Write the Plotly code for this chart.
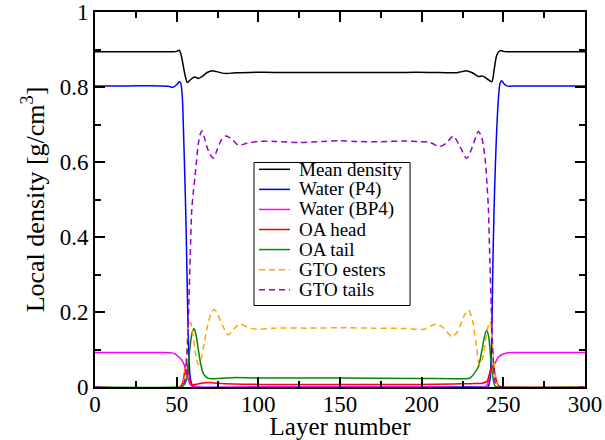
import plotly.graph_objects as go

# ---- data ----
mean_x = [0, 10, 20, 30, 40, 45, 48, 50, 51.6, 53, 54.5, 55.5, 56.5, 58.6, 60, 61.2, 63.3, 65.9, 68.4, 71.4, 74.5, 78, 80.6, 85.7, 95, 110, 130, 150, 170, 190, 205, 215, 221.4, 224.5, 227.6, 231, 234.7, 237.3, 240, 242.9, 244.5, 246, 248, 250, 252, 260, 280, 300]
mean_y = [0.894, 0.894, 0.894, 0.894, 0.894, 0.894, 0.894, 0.895, 0.898, 0.88, 0.845, 0.825, 0.812, 0.82, 0.825, 0.827, 0.823, 0.829, 0.838, 0.843, 0.841, 0.837, 0.836, 0.838, 0.839, 0.839, 0.839, 0.839, 0.839, 0.839, 0.839, 0.838, 0.838, 0.841, 0.843, 0.838, 0.828, 0.829, 0.822, 0.814, 0.85, 0.885, 0.897, 0.895, 0.894, 0.894, 0.894, 0.894]

p4_x = [0, 20, 40, 45, 47.5, 50, 51.6, 52.5, 53.5, 54.2, 55, 55.8, 56.5, 57.3, 58.2, 59.5, 62, 100, 150, 200, 235, 240.5, 241.8, 242.7, 243.5, 244.3, 245.2, 246, 247, 248, 249, 250.5, 252, 260, 300]
p4_y = [0.803, 0.803, 0.803, 0.802, 0.799, 0.806, 0.814, 0.81, 0.77, 0.68, 0.56, 0.42, 0.26, 0.11, 0.03, 0.005, 0, 0, 0, 0, 0, 0, 0.02, 0.1, 0.3, 0.47, 0.6, 0.69, 0.77, 0.81, 0.817, 0.808, 0.803, 0.803, 0.803]

bp4_x = [0, 20, 40, 47, 49, 51, 53.1, 55.1, 57.1, 58.2, 59.5, 62, 100, 200, 238, 240, 241.8, 243, 244.9, 247, 250, 253, 260, 300]
bp4_y = [0.092, 0.092, 0.092, 0.091, 0.088, 0.081, 0.072, 0.054, 0.019, 0.008, 0.002, 0, 0, 0, 0, 0.005, 0.036, 0.05, 0.063, 0.08, 0.088, 0.0915, 0.092, 0.092]

oah_x = [0, 52, 53.5, 54.5, 55.3, 56.1, 57, 58, 59, 60, 65, 70, 75, 85, 100, 150, 200, 220, 230, 237, 240, 241.5, 242.5, 243.5, 244.5, 245.5, 246.5, 248, 250, 300]
oah_y = [0, 0, 0.01, 0.03, 0.055, 0.063, 0.05, 0.02, 0.008, 0.006, 0.01, 0.012, 0.01, 0.008, 0.007, 0.007, 0.007, 0.008, 0.009, 0.01, 0.015, 0.035, 0.052, 0.058, 0.045, 0.022, 0.008, 0.001, 0, 0]

oat_x = [0, 50, 54, 56, 57, 58, 59.5, 60.6, 61.8, 63.3, 64.8, 66.3, 68, 69.4, 72.4, 80, 84.7, 100, 150, 200, 220, 226, 229.6, 232, 234.7, 237, 238.5, 239.8, 241, 242.2, 243.5, 244.9, 247, 300]
oat_y = [0, 0, 0.003, 0.02, 0.05, 0.1, 0.145, 0.156, 0.14, 0.099, 0.06, 0.036, 0.027, 0.023, 0.022, 0.024, 0.025, 0.024, 0.024, 0.023, 0.022, 0.022, 0.024, 0.035, 0.054, 0.1, 0.135, 0.152, 0.135, 0.081, 0.03, 0.003, 0, 0]

gtoe_x = [0, 52, 54, 55.5, 56.5, 57.5, 58.5, 60, 61.5, 63.3, 65, 67, 69, 71, 72.9, 75, 78, 81.6, 85, 88.8, 93, 99, 110, 130, 150, 170, 190, 201, 209.2, 214, 218.4, 222, 226, 228.6, 231, 233.5, 235.3, 237.5, 240, 241.8, 243.3, 244.9, 246, 247.5, 300]
gtoe_y = [0, 0, 0.01, 0.06, 0.12, 0.165, 0.172, 0.14, 0.09, 0.06, 0.075, 0.12, 0.165, 0.195, 0.207, 0.195, 0.165, 0.139, 0.155, 0.168, 0.16, 0.154, 0.157, 0.157, 0.158, 0.157, 0.156, 0.154, 0.168, 0.155, 0.134, 0.148, 0.19, 0.205, 0.18, 0.11, 0.06, 0.08, 0.15, 0.174, 0.12, 0.036, 0.01, 0, 0]

gtot_x = [0, 53, 54.5, 55.5, 56.5, 57.5, 58.3, 59.2, 60.2, 61.2, 62.2, 63.3, 64.5, 65.5, 67, 69, 72.4, 75, 77.5, 80.2, 84, 87.7, 93, 100, 110, 125, 140, 150, 160, 175, 190, 199, 205, 211.2, 215, 219.4, 223, 227.6, 231, 234.7, 236.8, 238.8, 240, 240.8, 241.8, 242.7, 243.5, 244.5, 246, 300]
gtot_y = [0, 0, 0.01, 0.03, 0.1, 0.23, 0.35, 0.47, 0.52, 0.56, 0.605, 0.65, 0.675, 0.683, 0.665, 0.635, 0.61, 0.635, 0.66, 0.669, 0.66, 0.645, 0.65, 0.655, 0.655, 0.652, 0.655, 0.657, 0.655, 0.654, 0.656, 0.654, 0.652, 0.641, 0.65, 0.669, 0.645, 0.61, 0.64, 0.681, 0.665, 0.61, 0.54, 0.48, 0.33, 0.2, 0.1, 0.03, 0.005, 0]

series_names = ["Mean density", "Water (P4)", "Water (BP4)", "OA head", "OA tail", "GTO esters", "GTO tails"]
series_x = [mean_x, p4_x, bp4_x, oah_x, oat_x, gtoe_x, gtot_x]
series_y = [mean_y, p4_y, bp4_y, oah_y, oat_y, gtoe_y, gtot_y]
series_colors = ["#000000", "#0000ff", "#ff00ff", "#ff0000", "#008b00", "#ffa500", "#9400d3"]
series_dash = ["solid", "solid", "solid", "solid", "solid", "6px,4px", "6px,4px"]

FONT = "Liberation Serif, Times New Roman, DejaVu Serif, serif"

fig = go.Figure()
for name, xs, ys, col, dash in zip(series_names, series_x, series_y, series_colors, series_dash):
    fig.add_trace(go.Scatter(
        x=xs, y=ys, name=name, mode="lines", showlegend=False,
        line=dict(color=col, width=1.5, dash=dash, shape="spline", smoothing=0.8),
    ))

# legend box drawn in the plot's paper frame (compact line spacing as in the original)
box = dict(x0=0.3245, x1=0.643, y0=0.2173, y1=0.5987)
fig.add_shape(type="rect", xref="paper", yref="paper", line=dict(color="black", width=1),
              fillcolor="white", layer="above", **box)
row_top = 0.5805
row_step = 0.0535
for i, (name, col, dash) in enumerate(zip(series_names, series_colors, series_dash)):
    yy = row_top - i * row_step
    fig.add_shape(type="line", xref="paper", yref="paper", x0=0.3347, x1=0.398, y0=yy, y1=yy,
                  line=dict(color=col, width=1.5, dash=dash), layer="above")
    fig.add_annotation(xref="paper", yref="paper", x=0.412, y=yy, text=name, showarrow=False,
                       xanchor="left", yanchor="middle",
                       font=dict(family=FONT, size=19, color="black"))

axis_common = dict(
    showline=True, linecolor="black", linewidth=2, mirror="allticks",
    ticks="inside", ticklen=10, tickwidth=1.5, tickcolor="black",
    showgrid=False, zeroline=False,
    tickfont=dict(family=FONT, size=23, color="black"),
)

fig.update_xaxes(
    range=[0, 300], dtick=50, tick0=0, ticklabelstandoff=-5,
    minor=dict(ticks="inside", ticklen=6, dtick=25, tickwidth=1.5, tickcolor="black", showgrid=False),
    title=dict(text="Layer number", font=dict(family=FONT, size=25, color="black"), standoff=4),
    **axis_common,
)
fig.update_yaxes(
    range=[0, 1], dtick=0.2, tick0=0, ticklabeloverflow="allow",
    minor=dict(ticks="inside", ticklen=6, dtick=0.1, tickwidth=1.5, tickcolor="black", showgrid=False),
    title=dict(text="Local density [g/cm<sup>3</sup>]", font=dict(family=FONT, size=26, color="black"), standoff=8),
    **axis_common,
)

fig.update_layout(
    width=605, height=440,
    margin=dict(l=95, r=20, t=12, b=53, autoexpand=False),
    paper_bgcolor="white", plot_bgcolor="white",
    showlegend=False,
)

fig.write_html("out.html", config={"displayModeBar": False},
               post_script="document.body.style.margin='0';")
